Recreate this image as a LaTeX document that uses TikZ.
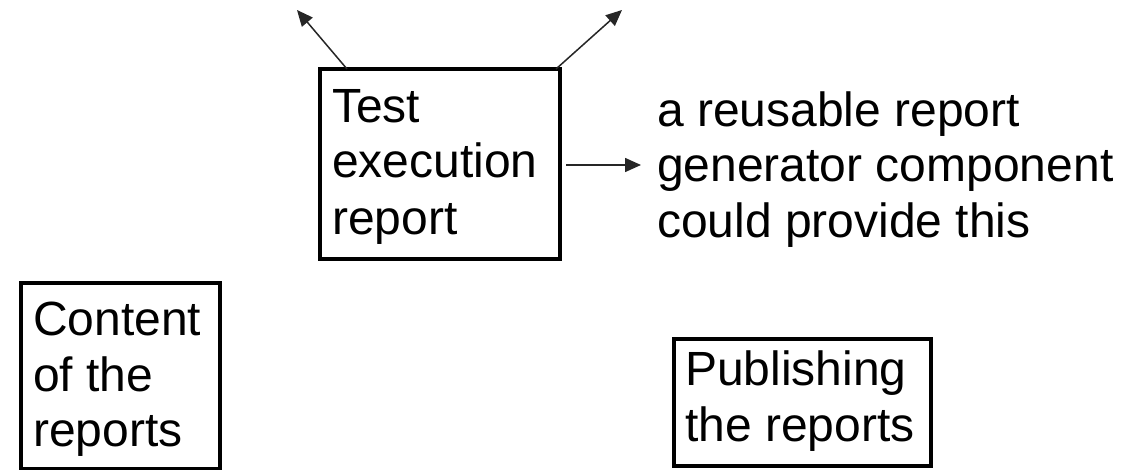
\documentclass[tikz,border=0pt]{standalone}
\usepackage{fontspec}
\setmainfont{Liberation Sans}
\usetikzlibrary{arrows.meta,calc}
\begin{document}
\begin{tikzpicture}[x=1pt,y=-1pt,
  box/.style={draw=black,line width=4pt,inner sep=0pt,outer sep=0pt,fill=white},
  txt/.style={anchor=base west,inner sep=0pt,font=\fontsize{48}{55.5}\selectfont},
  conn/.style={line width=1.5pt,draw=black!85,-{Triangle[length=16pt,width=14pt]}}]
\useasboundingbox[fill=white] (0,0) rectangle (1123,470);
% boxes
\node[box,minimum width=240pt,minimum height=190pt] (test) at (440,164) {};
\node[box,minimum width=199pt,minimum height=186pt] (content) at (120.5,376) {};
\node[box,minimum width=257pt,minimum height=127pt] (publish) at (802.5,402.5) {};
% box texts
\node[txt] (t1) at (332,123) {Test};
\node[txt] (t2) at (332,178) {execution};
\node[txt] (t3) at (332,234) {report};
\node[txt] (c1) at (33,335) {Content};
\node[txt] (c2) at (33,391) {of the};
\node[txt] (c3) at (33,446) {reports};
\node[txt] (p1) at (685,385) {Publishing};
\node[txt] (p2) at (685,441) {the reports};
% side text
\node[txt] (r1) at (657,127) {a reusable report};
\node[txt] (r2) at (657,182) {generator component};
\node[txt] (r3) at (657,237) {could provide this};
% free arrow ends
\coordinate (ul) at (297,10);
\coordinate (ur) at (622,10);
\coordinate (rr) at (641,165);
% connectors
\draw[conn] ($(test.north west)+(27,0)$) -- (ul);
\draw[conn] ($(test.north east)+(-4,0)$) -- (ur);
\draw[conn] ($(test.east)+(6,1)$) -- (rr);
\end{tikzpicture}
\end{document}
